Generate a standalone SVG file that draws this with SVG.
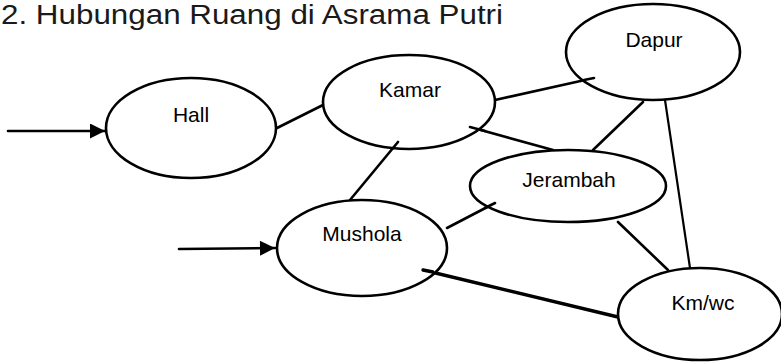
<svg xmlns="http://www.w3.org/2000/svg" width="781" height="362" viewBox="0 0 781 362">
<defs>
<style>
.node ellipse{fill:#fff;stroke:#000;stroke-width:2.6}
.lbl{font-family:"Liberation Sans",Arial,sans-serif;font-size:21px;fill:#000;text-anchor:middle}
.title{font-family:"Liberation Sans",Arial,sans-serif;font-size:27px;fill:#1a1a1a}
.edges line{stroke:#000;stroke-width:2.6;stroke-linecap:round}
</style>
<marker id="ah" viewBox="0 0 10 10" refX="10" refY="5" markerWidth="17" markerHeight="15" markerUnits="userSpaceOnUse" orient="auto">
<path d="M0,0 L10,5 L0,10 z" fill="#000"/>
</marker>
</defs>
<rect width="781" height="362" fill="#fff"/>
<text class="title" x="1" y="24" textLength="502" lengthAdjust="spacingAndGlyphs">2. Hubungan Ruang di Asrama Putri</text>
<g class="edges">
<line x1="8" y1="131" x2="105" y2="131" marker-end="url(#ah)"/>
<line x1="179" y1="249" x2="275" y2="248" marker-end="url(#ah)"/>
<line x1="277" y1="128" x2="323" y2="105"/>
<line x1="495" y1="100" x2="594" y2="78"/>
<line x1="470" y1="127" x2="553" y2="150"/>
<line x1="643" y1="102" x2="593" y2="150"/>
<line x1="665" y1="100" x2="690" y2="268" style="stroke-width:2.2"/>
<line x1="398" y1="142" x2="350" y2="200"/>
<line x1="447" y1="228" x2="495" y2="203"/>
<line x1="618" y1="222" x2="668" y2="270"/>
<line x1="423" y1="270" x2="618" y2="317" style="stroke-width:3.4"/>
</g>
<g id="hall" class="node"><ellipse cx="191" cy="128" rx="85" ry="50"/><text class="lbl" x="191" y="122">Hall</text></g>
<g id="kamar" class="node"><ellipse cx="409" cy="102" rx="86" ry="47"/><text class="lbl" x="410" y="97">Kamar</text></g>
<g id="dapur" class="node"><ellipse cx="653" cy="52" rx="87" ry="48"/><text class="lbl" x="654" y="47">Dapur</text></g>
<g id="jerambah" class="node"><ellipse cx="568" cy="186" rx="98" ry="36"/><text class="lbl" x="569" y="187">Jerambah</text></g>
<g id="mushola" class="node"><ellipse cx="362" cy="248" rx="85" ry="48"/><text class="lbl" x="362" y="241">Mushola</text></g>
<g id="kmwc" class="node"><ellipse cx="700" cy="314" rx="82" ry="46"/><text class="lbl" x="703" y="310">Km/wc</text></g>
<g class="edges">
<line x1="584" y1="80" x2="594" y2="78"/>
<line x1="470" y1="127" x2="485" y2="131"/>
<line x1="398" y1="142" x2="393" y2="148"/>
<line x1="485" y1="208" x2="495" y2="203"/>
<line x1="423" y1="270" x2="433" y2="272" style="stroke-width:3.4"/>
</g>
</svg>
